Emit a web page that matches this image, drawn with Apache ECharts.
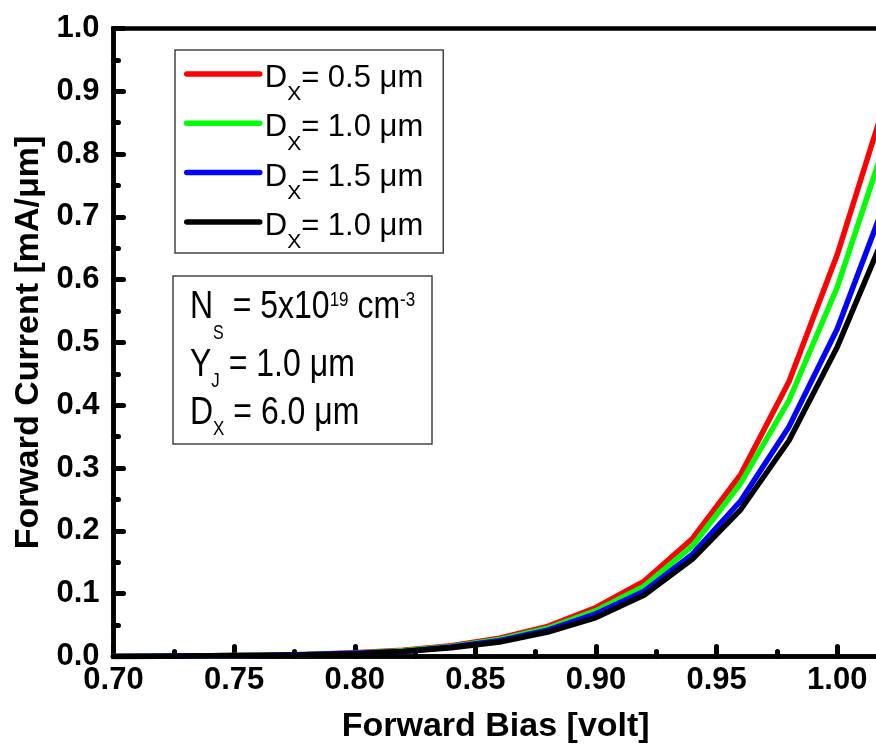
<!DOCTYPE html>
<html>
<head>
<meta charset="utf-8">
<script src="https://cdn.jsdelivr.net/npm/echarts@6/dist/echarts.min.js"></script>
<style>
html,body{margin:0;padding:0;background:#fff;overflow:hidden;}
#chart{width:876px;height:747px;}
</style>
</head>
<body>
<div id="chart"></div>
<script>
// Forward bias (volt)
const biasV = [0.70,0.72,0.74,0.76,0.78,0.80,0.82,0.84,0.86,0.88,0.90,0.92,0.94,0.96,0.98,1.00,1.02];
// Forward current (mA/um)
const dx05  = [0.000,0.0005,0.001,0.002,0.003,0.006,0.010,0.017,0.029,0.048,0.078,0.120,0.188,0.290,0.438,0.640,0.885];
const dx10  = [0.000,0.0005,0.001,0.002,0.003,0.005,0.009,0.016,0.027,0.045,0.073,0.112,0.176,0.276,0.408,0.588,0.820];
const dx15  = [0.000,0.0004,0.001,0.0015,0.003,0.005,0.008,0.015,0.025,0.042,0.068,0.104,0.163,0.248,0.366,0.522,0.725];
const dx10b = [0.000,0.0004,0.001,0.0015,0.0025,0.004,0.008,0.014,0.023,0.039,0.062,0.098,0.155,0.234,0.344,0.493,0.675];

const seriesNames = ['s05','s10','s15','s10b'];
const legendLabels = {s05:'0.5', s10:'1.0', s15:'1.5', s10b:'1.0'};
const seriesColors = ['#ff0000','#00ff00','#0000ff','#000000'];
const seriesData = [dx05, dx10, dx15, dx10b];

const xTickStep = 0.05;
const yTickStep = 0.1;

const FONT = 'Liberation Sans, Arial, sans-serif';

const chart = echarts.init(document.getElementById('chart'), null, {renderer:'canvas'});

const series = seriesNames.map((n, i) => ({
  name: n,
  type: 'line',
  symbol: 'none',
  smooth: false,
  clip: true,
  lineStyle: {color: seriesColors[i], width: 5.5, join: 'round', cap: 'round'},
  itemStyle: {color: seriesColors[i]},
  data: biasV.map((x, k) => [x, seriesData[i][k]]),
  z: 2 + i
}));

const boxRich = {
  m: {fontFamily: FONT, fontSize: 32, lineHeight: 40, padding: [10,0,0,0], verticalAlign: 'top', fill: '#000'},
  sub1: {fontFamily: FONT, fontSize: 16, lineHeight: 16, padding: [39,0,0,0], verticalAlign: 'top', fill: '#000'},
  sub: {fontFamily: FONT, fontSize: 17, lineHeight: 17, padding: [30,0,0,0], verticalAlign: 'top', fill: '#000'},
  sup: {fontFamily: FONT, fontSize: 17, lineHeight: 17, padding: [12,0,0,0], verticalAlign: 'top', fill: '#000'}
};

const option = {
  animation: false,
  backgroundColor: '#fff',
  grid: {
    left: 113.5, top: 28.5, bottom: 90.5, width: 844.4,
    outerBoundsMode: 'none',
    containLabel: false,
    show: true, borderColor: '#000', borderWidth: 4.5, backgroundColor: 'transparent'
  },
  xAxis: {
    type: 'value',
    min: 0.70, max: 1.05, interval: xTickStep,
    name: 'Forward Bias [volt]',
    nameLocation: 'middle',
    nameGap: 53,
    nameTextStyle: {fontFamily: FONT, fontWeight: 'bold', fontSize: 34, color: '#000', padding: [0, 80, 0, 0]},
    axisLine: {show: true, onZero: false, lineStyle: {color: '#000', width: 4.5}},
    axisTick: {show: true, inside: true, length: 10, lineStyle: {color: '#000', width: 5, cap: 'round'}},
    minorTick: {show: true, splitNumber: 2, length: 5, lineStyle: {color: '#000', width: 5, cap: 'round'}},
    splitLine: {show: false},
    axisLabel: {
      fontFamily: FONT, fontWeight: 'bold', fontSize: 31, color: '#000', margin: 8,
      formatter: v => v.toFixed(2)
    }
  },
  yAxis: {
    type: 'value',
    min: 0, max: 1.0, interval: yTickStep,
    name: 'Forward Current [mA/\u03bcm]',
    nameLocation: 'middle',
    nameGap: 68,
    nameTextStyle: {fontFamily: FONT, fontWeight: 'bold', fontSize: 34, color: '#000'},
    axisLine: {show: true, onZero: false, lineStyle: {color: '#000', width: 4.5}},
    axisTick: {show: true, inside: true, length: 10, lineStyle: {color: '#000', width: 5, cap: 'round'}},
    minorTick: {show: true, splitNumber: 2, length: 5, lineStyle: {color: '#000', width: 5, cap: 'round'}},
    splitLine: {show: false},
    axisLabel: {
      fontFamily: FONT, fontWeight: 'bold', fontSize: 31, color: '#000', margin: 14,
      formatter: v => v.toFixed(1)
    }
  },
  legend: {
    show: true,
    orient: 'vertical',
    left: 175, top: 50,
    padding: [6, 20, 0, 9],
    itemGap: 0.3,
    itemWidth: 73,
    itemHeight: 14,
    borderColor: '#444',
    borderWidth: 1.5,
    backgroundColor: '#fff',
    data: seriesNames,
    itemStyle: {opacity: 0},
    lineStyle: {width: 5.5, cap: 'round'},
    formatter: n => '{a|D}{s|X}{a|= ' + legendLabels[n] + ' \u03bcm}',
    textStyle: {
      fontFamily: FONT, color: '#000',
      rich: {
        a: {fontFamily: FONT, fontSize: 31, lineHeight: 36, padding: [7,0,0,0], verticalAlign: 'top', color: '#000'},
        s: {fontFamily: FONT, fontSize: 21, lineHeight: 21, padding: [28,0,0,0], verticalAlign: 'top', color: '#000'}
      }
    }
  },
  graphic: [
    {
      type: 'rect',
      shape: {x: 173, y: 276, width: 259, height: 168},
      style: {fill: '#fff', stroke: '#444', lineWidth: 1.5},
      z: 10
    },
    {
      type: 'text', x: 190, y: 275, scaleY: 1.24, z: 11,
      style: {text: '{m|N}{sub1|S}{m| = 5x10}{sup|19}{m| cm}{sup|-3}', verticalAlign: 'top', rich: boxRich}
    },
    {
      type: 'text', x: 190, y: 333, scaleY: 1.24, z: 11,
      style: {text: '{m|Y}{sub|J}{m| = 1.0 \u03bcm}', verticalAlign: 'top', rich: boxRich}
    },
    {
      type: 'text', x: 190, y: 381, scaleY: 1.24, z: 11,
      style: {text: '{m|D}{sub|X}{m| = 6.0 \u03bcm}', verticalAlign: 'top', rich: boxRich}
    }
  ],
  series: series
};

chart.setOption(option);
</script>
</body>
</html>
